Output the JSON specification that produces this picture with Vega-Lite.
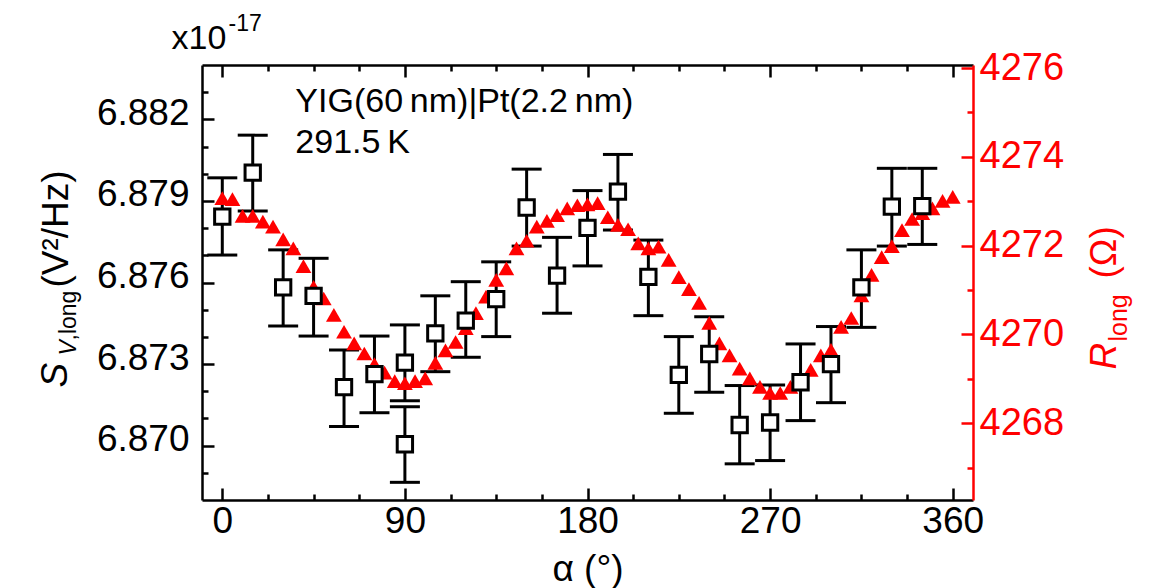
{
  "$schema": "https://vega.github.io/schema/vega-lite/v6.json",
  "width": 771,
  "height": 435,
  "autosize": {"type": "none"},
  "padding": {"left": 202, "top": 65, "right": 181, "bottom": 88},
  "background": "white",
  "config": {
    "view": {"stroke": null},
    "axis": {
      "grid": false,
      "domainColor": "black",
      "domainWidth": 2.5,
      "tickColor": "black",
      "tickWidth": 2.5,
      "labelFont": "Liberation Sans",
      "titleFont": "Liberation Sans",
      "labelColor": "black",
      "titleColor": "black",
      "labelFontSize": 37,
      "titleFontSize": 37,
      "titleFontWeight": "normal"
    }
  },
  "datasets": {
    "sv": [
      {"alpha": 0, "S": 6.87842, "S_lo": 6.87701, "S_hi": 6.87985},
      {"alpha": 15, "S": 6.88004, "S_lo": 6.87863, "S_hi": 6.88142},
      {"alpha": 30, "S": 6.87582, "S_lo": 6.87440, "S_hi": 6.87720},
      {"alpha": 45, "S": 6.87551, "S_lo": 6.87403, "S_hi": 6.87689},
      {"alpha": 60, "S": 6.87215, "S_lo": 6.87070, "S_hi": 6.87352},
      {"alpha": 75, "S": 6.87263, "S_lo": 6.87121, "S_hi": 6.87403},
      {"alpha": 90, "S": 6.87305, "S_lo": 6.87165, "S_hi": 6.87444},
      {"alpha": 90, "S": 6.87005, "S_lo": 6.86865, "S_hi": 6.87143},
      {"alpha": 105, "S": 6.87413, "S_lo": 6.87272, "S_hi": 6.87551},
      {"alpha": 120, "S": 6.87460, "S_lo": 6.87325, "S_hi": 6.87603},
      {"alpha": 135, "S": 6.87539, "S_lo": 6.87401, "S_hi": 6.87676},
      {"alpha": 150, "S": 6.87876, "S_lo": 6.87734, "S_hi": 6.88017},
      {"alpha": 165, "S": 6.87625, "S_lo": 6.87487, "S_hi": 6.87766},
      {"alpha": 180, "S": 6.87801, "S_lo": 6.87661, "S_hi": 6.87938},
      {"alpha": 195, "S": 6.87934, "S_lo": 6.87793, "S_hi": 6.88071},
      {"alpha": 210, "S": 6.87621, "S_lo": 6.87478, "S_hi": 6.87756},
      {"alpha": 225, "S": 6.87260, "S_lo": 6.87119, "S_hi": 6.87401},
      {"alpha": 240, "S": 6.87337, "S_lo": 6.87196, "S_hi": 6.87474},
      {"alpha": 255, "S": 6.87076, "S_lo": 6.86933, "S_hi": 6.87221},
      {"alpha": 270, "S": 6.87085, "S_lo": 6.86945, "S_hi": 6.87223},
      {"alpha": 285, "S": 6.87233, "S_lo": 6.87092, "S_hi": 6.87374},
      {"alpha": 300, "S": 6.87300, "S_lo": 6.87158, "S_hi": 6.87438},
      {"alpha": 315, "S": 6.87582, "S_lo": 6.87435, "S_hi": 6.87720},
      {"alpha": 330, "S": 6.87879, "S_lo": 6.87734, "S_hi": 6.88020},
      {"alpha": 345, "S": 6.87881, "S_lo": 6.87740, "S_hi": 6.88020}
    ],
    "rlong": [
      {"alpha": 0, "R": 4273.07}, {"alpha": 5, "R": 4273.05}, {"alpha": 10, "R": 4272.67},
      {"alpha": 15, "R": 4272.67}, {"alpha": 20, "R": 4272.54}, {"alpha": 25, "R": 4272.43},
      {"alpha": 30, "R": 4272.14}, {"alpha": 35, "R": 4271.94}, {"alpha": 40, "R": 4271.54},
      {"alpha": 45, "R": 4271.07}, {"alpha": 50, "R": 4270.81}, {"alpha": 55, "R": 4270.44},
      {"alpha": 60, "R": 4270.06}, {"alpha": 65, "R": 4269.80}, {"alpha": 70, "R": 4269.57},
      {"alpha": 75, "R": 4269.33}, {"alpha": 80, "R": 4269.14}, {"alpha": 85, "R": 4268.95},
      {"alpha": 90, "R": 4268.90}, {"alpha": 95, "R": 4268.95}, {"alpha": 100, "R": 4269.01},
      {"alpha": 105, "R": 4269.36}, {"alpha": 110, "R": 4269.64}, {"alpha": 115, "R": 4269.83},
      {"alpha": 120, "R": 4270.14}, {"alpha": 125, "R": 4270.48}, {"alpha": 130, "R": 4270.85},
      {"alpha": 135, "R": 4271.23}, {"alpha": 140, "R": 4271.49}, {"alpha": 145, "R": 4271.94},
      {"alpha": 150, "R": 4272.11}, {"alpha": 155, "R": 4272.43}, {"alpha": 160, "R": 4272.56},
      {"alpha": 165, "R": 4272.69}, {"alpha": 170, "R": 4272.84}, {"alpha": 175, "R": 4272.91},
      {"alpha": 180, "R": 4272.93}, {"alpha": 185, "R": 4272.96}, {"alpha": 190, "R": 4272.64},
      {"alpha": 195, "R": 4272.47}, {"alpha": 200, "R": 4272.37}, {"alpha": 205, "R": 4272.05},
      {"alpha": 210, "R": 4271.94}, {"alpha": 215, "R": 4271.98}, {"alpha": 220, "R": 4271.68},
      {"alpha": 225, "R": 4271.29}, {"alpha": 230, "R": 4271.02}, {"alpha": 235, "R": 4270.71},
      {"alpha": 240, "R": 4270.26}, {"alpha": 245, "R": 4269.80}, {"alpha": 250, "R": 4269.53},
      {"alpha": 255, "R": 4269.23}, {"alpha": 260, "R": 4269.01}, {"alpha": 265, "R": 4268.82},
      {"alpha": 270, "R": 4268.68}, {"alpha": 275, "R": 4268.68}, {"alpha": 280, "R": 4268.82},
      {"alpha": 285, "R": 4268.93}, {"alpha": 290, "R": 4269.20}, {"alpha": 295, "R": 4269.53},
      {"alpha": 300, "R": 4269.65}, {"alpha": 305, "R": 4270.17}, {"alpha": 310, "R": 4270.37},
      {"alpha": 315, "R": 4270.88}, {"alpha": 320, "R": 4271.34}, {"alpha": 325, "R": 4271.74},
      {"alpha": 330, "R": 4271.99}, {"alpha": 335, "R": 4272.35}, {"alpha": 340, "R": 4272.60},
      {"alpha": 345, "R": 4272.73}, {"alpha": 350, "R": 4272.84}, {"alpha": 355, "R": 4273.01},
      {"alpha": 360, "R": 4273.10}
    ],
    "notes": [
      {"note": "YIG(60\u2009nm)|Pt(2.2\u2009nm)"},
      {"note": "291.5\u2009K"}
    ]
  },
  "layer": [
    {
      "data": {"name": "sv"},
      "mark": {"type": "rule", "color": "black", "strokeWidth": 3},
      "encoding": {
        "x": {"field": "alpha", "type": "quantitative",
          "scale": {"domain": [-10, 370], "nice": false, "zero": false},
          "axis": {"orient": "bottom", "values": [0, 90, 180, 270, 360], "ticks": false, "labelPadding": 3,
            "title": "α (°)", "titleX": 385.5, "titleY": 80, "titleAlign": "center", "titleBaseline": "alphabetic"}},
        "y": {"field": "S_lo", "type": "quantitative",
          "scale": {"domain": [6.868, 6.884], "nice": false, "zero": false},
          "axis": {"orient": "left", "values": [6.870, 6.873, 6.876, 6.879, 6.882], "format": ".3f", "ticks": false,
            "labelPadding": 13, "labelOffset": -6,
            "title": "S", "titleFontStyle": "italic", "titleAngle": -90, "titleAlign": "left", "titleBaseline": "alphabetic",
            "titleX": -136, "titleY": 322}},
        "y2": {"field": "S_hi"}
      }
    },
    {
      "data": {"name": "sv"},
      "mark": {"type": "tick", "orient": "horizontal", "color": "black", "size": 30, "thickness": 3, "opacity": 1},
      "encoding": {
        "x": {"field": "alpha", "type": "quantitative",
          "scale": {"domain": [-10, 370], "nice": false, "zero": false},
          "axis": {"orient": "bottom", "values": [0, 90, 180, 270, 360], "labels": false, "domain": false, "tickSize": -12, "title": null}},
        "y": {"field": "S_hi", "type": "quantitative",
          "scale": {"domain": [6.868, 6.884], "nice": false, "zero": false},
          "axis": {"orient": "left", "values": [6.870, 6.873, 6.876, 6.879, 6.882], "labels": false, "domain": false, "tickSize": -12,
            "title": "V", "titleFontSize": 23, "titleFontStyle": "italic", "titleAngle": -90, "titleAlign": "left", "titleBaseline": "alphabetic",
            "titleX": -127, "titleY": 290}}
      }
    },
    {
      "data": {"name": "sv"},
      "mark": {"type": "tick", "orient": "horizontal", "color": "black", "size": 30, "thickness": 3, "opacity": 1},
      "encoding": {
        "x": {"field": "alpha", "type": "quantitative",
          "scale": {"domain": [-10, 370], "nice": false, "zero": false},
          "axis": {"orient": "bottom", "values": [22.5, 45, 67.5, 112.5, 135, 157.5, 202.5, 225, 247.5, 292.5, 315, 337.5], "labels": false, "domain": false, "tickSize": -6, "title": null}},
        "y": {"field": "S_lo", "type": "quantitative",
          "scale": {"domain": [6.868, 6.884], "nice": false, "zero": false},
          "axis": {"orient": "left", "values": [6.869, 6.871, 6.872, 6.874, 6.875, 6.877, 6.878, 6.880, 6.881, 6.883], "labels": false, "domain": false, "tickSize": -6,
            "title": ",long", "titleFontSize": 23, "titleAngle": -90, "titleAlign": "left", "titleBaseline": "alphabetic",
            "titleX": -127, "titleY": 275}}
      }
    },
    {
      "data": {"name": "rlong"},
      "mark": {"type": "point", "shape": "triangle-up", "filled": true, "color": "#ff0000", "size": 250, "opacity": 1},
      "encoding": {
        "x": {"field": "alpha", "type": "quantitative",
          "scale": {"domain": [-10, 370], "nice": false, "zero": false},
          "axis": {"orient": "top", "values": [0, 90, 180, 270, 360], "labels": false, "tickSize": -12,
            "title": "x10", "titleFontSize": 34, "titleAngle": 0, "titleAlign": "left", "titleBaseline": "alphabetic", "titleX": -31, "titleY": -17}},
        "y": {"field": "R", "type": "quantitative",
          "scale": {"domain": [4266.27, 4276.07], "nice": false, "zero": false},
          "axis": {"orient": "right", "values": [4268, 4270, 4272, 4274, 4276], "format": "d", "ticks": false, "labelPadding": 6, "labelFontSize": 38,
            "domainColor": "#ff0000", "labelColor": "#ff0000",
            "title": "R", "titleColor": "#ff0000", "titleFontStyle": "italic", "titleAngle": -90, "titleAlign": "left", "titleBaseline": "alphabetic",
            "titleX": 142, "titleY": 304}}
      }
    },
    {
      "data": {"name": "sv"},
      "mark": {"type": "point", "shape": "square", "filled": true, "fill": "white", "stroke": "black", "strokeWidth": 3, "size": 235, "opacity": 1},
      "encoding": {
        "x": {"field": "alpha", "type": "quantitative",
          "scale": {"domain": [-10, 370], "nice": false, "zero": false},
          "axis": {"orient": "top", "values": [22.5, 45, 67.5, 112.5, 135, 157.5, 202.5, 225, 247.5, 292.5, 315, 337.5], "labels": false, "domain": false, "tickSize": -6,
            "title": "-17", "titleFontSize": 23, "titleAngle": 0, "titleAlign": "left", "titleBaseline": "alphabetic", "titleX": 26, "titleY": -35}},
        "y": {"field": "S", "type": "quantitative",
          "scale": {"domain": [6.868, 6.884], "nice": false, "zero": false},
          "axis": {"orient": "left", "labels": false, "ticks": false, "domain": false,
            "title": "(V²/Hz)", "titleAngle": -90, "titleAlign": "left", "titleBaseline": "alphabetic",
            "titleX": -135, "titleY": 222}}
      }
    },
    {
      "data": {"name": "notes"},
      "transform": [{"filter": "datum.note != '291.5\u2009K'"}],
      "mark": {"type": "text", "align": "left", "baseline": "alphabetic", "font": "Liberation Sans", "fontSize": 34, "color": "black"},
      "encoding": {
        "text": {"field": "note"},
        "x": {"datum": 36, "type": "quantitative", "scale": {"domain": [-10, 370], "nice": false, "zero": false}, "axis": null},
        "y": {"datum": 4275.02, "type": "quantitative",
          "scale": {"domain": [4266.27, 4276.07], "nice": false, "zero": false},
          "axis": {"orient": "right", "values": [4268, 4270, 4272, 4274, 4276], "labels": false, "domain": false, "tickSize": -12, "tickColor": "#ff0000",
            "title": "long", "titleFontSize": 25, "titleColor": "#ff0000", "titleAngle": -90, "titleAlign": "left", "titleBaseline": "alphabetic",
            "titleX": 153, "titleY": 276}}
      }
    },
    {
      "data": {"name": "notes"},
      "transform": [{"filter": "datum.note == '291.5\u2009K'"}],
      "mark": {"type": "text", "align": "left", "baseline": "alphabetic", "font": "Liberation Sans", "fontSize": 34, "color": "black"},
      "encoding": {
        "text": {"field": "note"},
        "x": {"datum": 36, "type": "quantitative", "scale": {"domain": [-10, 370], "nice": false, "zero": false}, "axis": null},
        "y": {"datum": 4274.08, "type": "quantitative",
          "scale": {"domain": [4266.27, 4276.07], "nice": false, "zero": false},
          "axis": {"orient": "right", "values": [4267, 4269, 4271, 4273, 4275], "labels": false, "domain": false, "tickSize": -6, "tickColor": "#ff0000",
            "title": "(Ω)", "titleColor": "#ff0000", "titleAngle": -90, "titleAlign": "left", "titleBaseline": "alphabetic",
            "titleX": 142, "titleY": 213}}
      }
    }
  ],
  "resolve": {
    "scale": {"x": "shared", "y": "independent"},
    "axis": {"x": "independent", "y": "independent"}
  }
}
